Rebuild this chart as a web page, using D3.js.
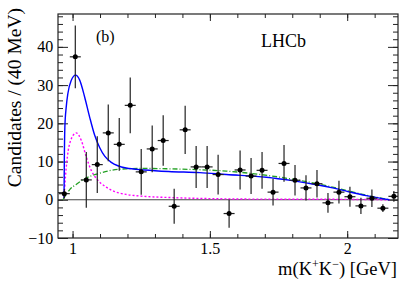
<!DOCTYPE html>
<html>
<head>
<meta charset="utf-8">
<script src="https://cdn.jsdelivr.net/npm/d3@7"></script>
<style>
  body { margin: 0; background: #fff; }
  text { font-family: "Liberation Serif", "Times New Roman", serif; }
</style>
</head>
<body>
<svg id="chart" width="419" height="284"></svg>
<script>
// bin centres (40 MeV bins), counts and errors
var binMass = [0.97, 1.01, 1.05, 1.09, 1.13, 1.17, 1.21, 1.25, 1.29, 1.33, 1.37,
               1.41, 1.45, 1.49, 1.53, 1.57, 1.61, 1.65, 1.69, 1.73, 1.77, 1.81,
               1.85, 1.89, 1.93, 1.97, 2.01, 2.05, 2.09, 2.13, 2.17];
var counts  = [1.6, 37.4, 5.2, 9.2, 17.5, 14.5, 24.7, 7.3, 13.3, 15.5, -1.7,
               18.3, 8.6, 8.6, 6.6, -3.6, 7.8, 6.2, 7.7, 2.0, 9.5, 5.1,
               3.1, 4.2, -0.8, 2.0, 0.8, -1.6, 0.4, -2.2, 0.9];
var errors  = [1.2, 8.2, 7.3, 7.4, 7.4, 6.9, 7.3, 6.0, 6.1, 6.6, 4.6,
               6.3, 5.5, 5.5, 5.2, 3.7, 5.1, 4.7, 4.8, 3.5, 4.8, 4.0,
               3.3, 3.6, 2.6, 3.0, 2.6, 2.1, 2.3, 1.0, 1.4];
var halfBin = 0.02;

// fit curves, [mass, value] points
var totalFit = [[0.969, 0.5], [0.970, 10], [0.972, 19], [0.977, 24.3], [0.983, 27.8],
                [0.995, 31.2], [1.011, 32.6], [1.026, 31.3], [1.044, 26.9], [1.062, 21.7],
                [1.080, 17.0], [1.099, 13.6], [1.117, 11.4], [1.141, 9.8], [1.165, 8.9],
                [1.195, 8.3], [1.263, 7.8], [1.35, 7.4], [1.463, 7.1], [1.56, 6.6],
                [1.706, 5.9], [1.80, 5.0], [1.884, 4.0], [1.947, 3.1], [2.0, 2.2],
                [2.069, 1.1], [2.154, 0.0]];
var signalFit = [[0.969, 0.3], [0.974, 5.9], [0.981, 11.2], [0.993, 15.5], [1.013, 17.5],
                 [1.032, 15.5], [1.050, 11.2], [1.068, 7.7], [1.092, 5.1], [1.123, 3.3],
                 [1.159, 2.0], [1.195, 1.4], [1.26, 0.9], [1.35, 0.6], [1.5, 0.3],
                 [1.6, 0.2], [2.0, 0.1], [2.154, 0.0]];
var otherFit = [[0.965, 0.0], [0.975, 1.2], [0.989, 2.6], [1.013, 4.0], [1.044, 5.5],
                [1.092, 6.8], [1.141, 7.7], [1.195, 8.1], [1.263, 8.2], [1.35, 8.1],
                [1.45, 7.9], [1.56, 7.5], [1.685, 6.6], [1.80, 5.4], [1.884, 4.3],
                [1.947, 3.3], [2.0, 2.4], [2.069, 1.2], [2.154, 0.0]];

var xMajor = [1, 1.5, 2];
var xMinor = [1.0, 1.1, 1.2, 1.3, 1.4, 1.5, 1.6, 1.7, 1.8, 1.9, 2.0, 2.1];
var yMajor = [-10, 0, 10, 20, 30, 40];
var yMinor = [-10, -8, -6, -4, -2, 0, 2, 4, 6, 8, 10, 12, 14, 16, 18, 20, 22, 24, 26,
              28, 30, 32, 34, 36, 38, 40, 42, 44, 46, 48];

var pLeft = 58, pRight = 398, pTop = 14, pBottom = 238;

var svg = d3.select("#chart");

var x = d3.scaleLinear().domain([0.947, 2.185]).range([pLeft, pRight]);
var y = d3.scaleLinear().domain([-10, 48.6]).range([pBottom, pTop]);

svg.append("clipPath").attr("id", "plotclip")
  .append("rect").attr("x", pLeft).attr("y", pTop)
  .attr("width", pRight - pLeft).attr("height", pBottom - pTop);

// ticks, ROOT style: inward on all four sides
function noDomain(g) { g.select(".domain").remove(); g.selectAll("line").attr("stroke", "#222"); }
function labelStyle(g) {
  g.selectAll("text").attr("font-size", 16).attr("fill", "#000")
    .style("font-family", "'Liberation Serif', 'Times New Roman', serif");
}

svg.append("g").attr("transform", "translate(0," + pBottom + ")")
  .call(d3.axisBottom(x).tickValues(xMinor).tickSize(-4).tickFormat(""))
  .call(noDomain);
svg.append("g").attr("transform", "translate(0," + pBottom + ")")
  .call(d3.axisBottom(x).tickValues(xMajor).tickSize(-7).tickPadding(4.6).tickFormat(d3.format("")))
  .call(noDomain)
  .call(labelStyle);
svg.append("g").attr("transform", "translate(0," + pTop + ")")
  .call(d3.axisTop(x).tickValues(xMinor).tickSize(-4).tickFormat(""))
  .call(noDomain);
svg.append("g").attr("transform", "translate(0," + pTop + ")")
  .call(d3.axisTop(x).tickValues(xMajor).tickSize(-7).tickFormat(""))
  .call(noDomain);

svg.append("g").attr("transform", "translate(" + pLeft + ",0)")
  .call(d3.axisLeft(y).tickValues(yMinor).tickSize(-5).tickFormat(""))
  .call(noDomain);
svg.append("g").attr("transform", "translate(" + pLeft + ",0)")
  .call(d3.axisLeft(y).tickValues(yMajor).tickSize(-10).tickPadding(4.7).tickFormat(d3.format("")))
  .call(noDomain)
  .call(labelStyle);
svg.append("g").attr("transform", "translate(" + pRight + ",0)")
  .call(d3.axisRight(y).tickValues(yMinor).tickSize(-5).tickFormat(""))
  .call(noDomain);
svg.append("g").attr("transform", "translate(" + pRight + ",0)")
  .call(d3.axisRight(y).tickValues(yMajor).tickSize(-10).tickFormat(""))
  .call(noDomain);

// zero line
svg.append("line")
  .attr("x1", pLeft).attr("x2", pRight)
  .attr("y1", y(0)).attr("y2", y(0))
  .attr("stroke", "#444").attr("stroke-width", 1.2);

var plot = svg.append("g").attr("clip-path", "url(#plotclip)");

var line = d3.line()
  .x(function(d) { return x(d[0]); })
  .y(function(d) { return y(d[1]); })
  .curve(d3.curveMonotoneX);

plot.append("path").datum(signalFit)
  .attr("d", line).attr("fill", "none")
  .attr("stroke", "#ff00ff").attr("stroke-width", 1.4)
  .attr("stroke-dasharray", "2,2");

plot.append("path").datum(otherFit)
  .attr("d", line).attr("fill", "none")
  .attr("stroke", "#22a022").attr("stroke-width", 1.3)
  .attr("stroke-dasharray", "5,2,1,2");

plot.append("path").datum(totalFit)
  .attr("d", line).attr("fill", "none")
  .attr("stroke", "#0000ff").attr("stroke-width", 1.4);

// data points with errors
var pts = plot.selectAll("g.pt")
  .data(binMass.map(function(m, i) { return { m: m, v: counts[i], e: errors[i] }; }))
  .enter().append("g").attr("class", "pt");

pts.append("line")
  .attr("x1", function(d) { return x(d.m); })
  .attr("x2", function(d) { return x(d.m); })
  .attr("y1", function(d) { return y(d.v - d.e); })
  .attr("y2", function(d) { return y(d.v + d.e); })
  .attr("stroke", "#222").attr("stroke-width", 1.2);

pts.append("line")
  .attr("x1", function(d) { return x(d.m - halfBin); })
  .attr("x2", function(d) { return x(d.m + halfBin); })
  .attr("y1", function(d) { return y(d.v); })
  .attr("y2", function(d) { return y(d.v); })
  .attr("stroke", "#222").attr("stroke-width", 1.2);

pts.append("circle")
  .attr("cx", function(d) { return x(d.m); })
  .attr("cy", function(d) { return y(d.v); })
  .attr("r", 2.5).attr("fill", "#000");

// frame
svg.append("rect")
  .attr("x", pLeft).attr("y", pTop)
  .attr("width", pRight - pLeft).attr("height", pBottom - pTop)
  .attr("fill", "none").attr("stroke", "#222").attr("stroke-width", 1.2);

// labels
svg.append("text")
  .attr("transform", "translate(21,8) rotate(-90)")
  .attr("text-anchor", "end")
  .attr("font-size", 19.5)
  .text("Candidates / (40 MeV)");

var xt = svg.append("text")
  .attr("x", pRight - 1).attr("y", 275)
  .attr("text-anchor", "end")
  .attr("font-size", 18.5);
xt.append("tspan").text("m(K");
xt.append("tspan").attr("font-size", 12).attr("dy", -7).text("+");
xt.append("tspan").attr("dy", 7).text("K");
xt.append("tspan").attr("font-size", 12).attr("dy", -7).text("\u2212");
xt.append("tspan").attr("dy", 7).text(") [GeV]");

svg.append("text")
  .attr("x", 96).attr("y", 42)
  .attr("font-size", 16)
  .text("(b)");

svg.append("text")
  .attr("x", 261).attr("y", 47)
  .attr("font-size", 18)
  .text("LHCb");
</script>
</body>
</html>
